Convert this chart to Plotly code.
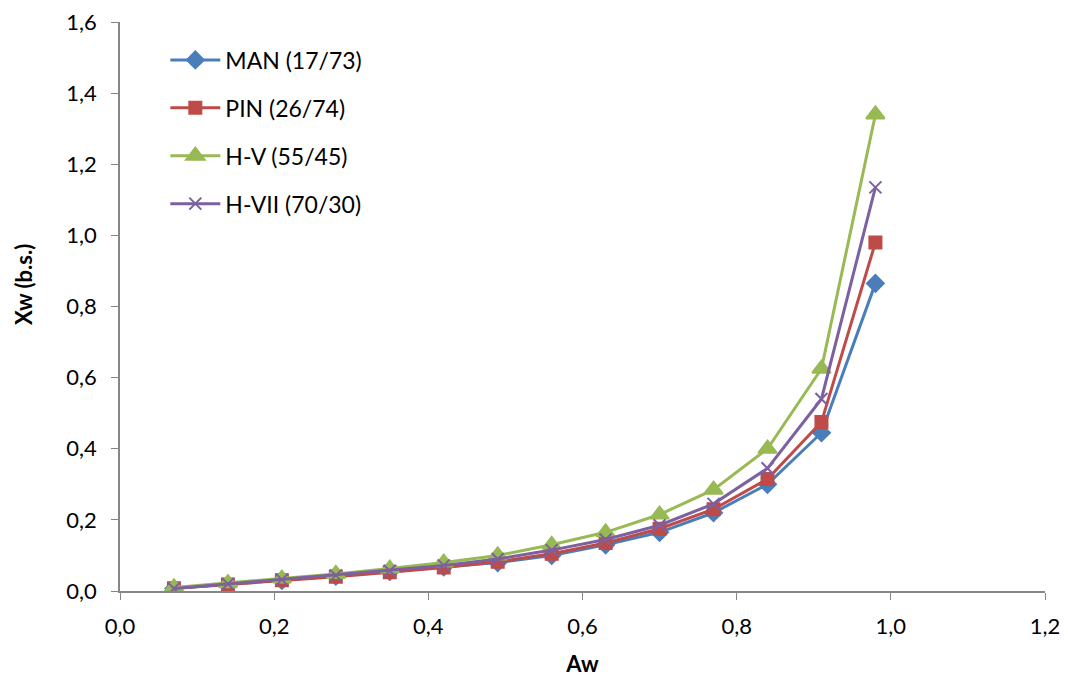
import plotly.graph_objects as go

aw = [0.07, 0.14, 0.21, 0.28, 0.35, 0.42, 0.49, 0.56, 0.63, 0.70, 0.77, 0.84, 0.91, 0.98]

man = [0.007, 0.018, 0.030, 0.042, 0.055, 0.068, 0.080, 0.100, 0.130, 0.165, 0.220, 0.300, 0.445, 0.865]
pin = [0.008, 0.018, 0.030, 0.040, 0.053, 0.066, 0.082, 0.105, 0.135, 0.175, 0.230, 0.315, 0.475, 0.980]
hv = [0.010, 0.022, 0.035, 0.048, 0.063, 0.080, 0.100, 0.130, 0.165, 0.215, 0.285, 0.400, 0.625, 1.340]
hvii = [0.007, 0.020, 0.032, 0.044, 0.057, 0.072, 0.090, 0.115, 0.145, 0.185, 0.245, 0.345, 0.540, 1.135]

series = [
    ("MAN (17/73)", man, "#4A7EBB", "diamond", 13),
    ("PIN (26/74)", pin, "#BE4B48", "square", 12),
    ("H-V (55/45)", hv, "#98B954", "triangle-up", 16),
    ("H-VII (70/30)", hvii, "#7D60A0", "x-thin", 12),
]

fig = go.Figure()
for name, ys, color, sym, size in series:
    fig.add_trace(go.Scatter(
        x=aw, y=ys, name=name, legendgroup=name, mode="lines+markers",
        line=dict(color=color, width=3),
        marker=dict(symbol=sym, size=size, color=color,
                    line=dict(color=color, width=2)),
    ))

font = "Lato, 'Open Sans', sans-serif"
fig.update_layout(
    width=1068, height=677,
    margin=dict(l=120, r=23, t=22, b=86),
    paper_bgcolor="white", plot_bgcolor="white",
    separators=",.",
    font=dict(family=font, size=22, color="black"),
    legend=dict(x=0.049, y=0.971, xanchor="left", yanchor="top",
                bgcolor="rgba(0,0,0,0)", font=dict(size=23),
                tracegroupgap=15, itemwidth=50),
    showlegend=True,
)
fig.update_xaxes(
    range=[0, 1.2], dtick=0.2, tick0=0, tickformat=".1f",
    showgrid=False, zeroline=False, showline=True, automargin=False,
    linecolor="#868686", linewidth=1.5,
    ticks="outside", ticklen=7, tickcolor="#868686",
    ticklabelstandoff=8,
    title=dict(text="<b>Aw</b>", font=dict(size=22), standoff=22),
)
fig.update_yaxes(
    range=[0, 1.6], dtick=0.2, tick0=0, tickformat=".1f",
    showgrid=False, zeroline=False, showline=True, automargin=False,
    linecolor="#868686", linewidth=1.5,
    ticks="outside", ticklen=7, tickcolor="#868686",
    ticklabelstandoff=10,
)
fig.add_annotation(
    text="<b>Xw (b.s.)</b>", textangle=-90, showarrow=False,
    xref="paper", yref="paper", x=0, y=0.538,
    xanchor="center", yanchor="middle", xshift=-96,
    font=dict(size=22),
)

fig.write_html("out.html")
